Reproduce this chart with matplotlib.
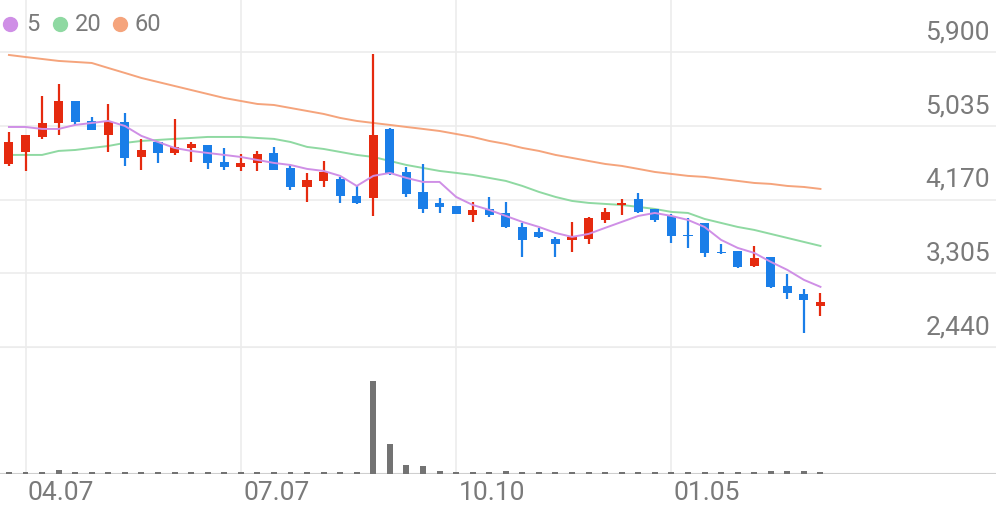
import numpy as np
import matplotlib.pyplot as plt

plt.rcParams['font.family'] = ['Roboto', 'DejaVu Sans']

# weekly candles
opens = [4588, 4729, 4905, 5069, 5327, 5093, 4928, 5081, 4670, 4846,
         4717, 4776, 4811, 4612, 4553, 4600, 4717, 4541, 4318, 4389,
         4412, 4213, 4189, 4999, 4494, 4260, 4131, 4096, 3990, 4060,
         4013, 3849, 3791, 3709, 3697, 3709, 3931, 4107, 4178, 4060,
         3978, 3755, 3896, 3556, 3568, 3392, 3497, 3157, 3063, 2923]
highs = [4964, 4928, 5386, 5527, 5327, 5140, 5292, 5187, 4882, 4846,
         5116, 4846, 4811, 4776, 4706, 4741, 4788, 4576, 4483, 4623,
         4436, 4330, 5879, 5011, 4553, 4588, 4189, 4096, 4142, 4201,
         4142, 3896, 3838, 3732, 3908, 3967, 4072, 4178, 4248, 4060,
         4002, 3955, 3896, 3650, 3568, 3626, 3497, 3298, 3122, 3075]
lows = [4565, 4506, 4882, 4928, 5046, 4987, 4729, 4565, 4518, 4600,
        4694, 4612, 4530, 4518, 4506, 4506, 4518, 4283, 4142, 4318,
        4131, 4119, 3978, 4459, 4201, 4013, 4013, 4002, 3908, 3967,
        3838, 3497, 3720, 3497, 3556, 3650, 3896, 3990, 4013, 3908,
        3662, 3603, 3497, 3533, 3368, 3380, 3134, 3005, 2606, 2805]
closes = [4846, 4928, 5069, 5327, 5081, 4987, 5081, 4659, 4752, 4717,
          4788, 4823, 4600, 4553, 4600, 4706, 4518, 4318, 4401, 4494,
          4213, 4131, 4928, 4483, 4236, 4060, 4084, 4002, 4049, 3990,
          3849, 3697, 3732, 3650, 3732, 3955, 4025, 4131, 4025, 3931,
          3744, 3744, 3544, 3544, 3380, 3486, 3146, 3075, 2993, 2970]
volume = [2, 2, 2, 4, 2, 2, 2, 2, 2, 2,
          2, 2, 2, 2, 2, 2, 2, 2, 2, 2,
          2, 2, 93, 30, 9, 8, 3, 2, 2, 2,
          3, 2, 2, 2, 2, 2, 2, 2, 2, 2,
          2, 2, 2, 2, 2, 2, 3, 3, 3, 2]
ma5 = [5022, 5022, 4999, 4999, 5046, 5069, 5093, 5034, 4917, 4846,
       4776, 4741, 4717, 4694, 4670, 4635, 4600, 4576, 4530, 4506,
       4448, 4330, 4448, 4483, 4424, 4377, 4377, 4201, 4107, 4049,
       3978, 3908, 3849, 3779, 3732, 3767, 3838, 3908, 3978, 4013,
       3978, 3931, 3849, 3697, 3603, 3544, 3439, 3345, 3228, 3146]
ma20 = [4694, 4694, 4694, 4741, 4752, 4776, 4799, 4835, 4858, 4870,
        4882, 4893, 4905, 4905, 4905, 4893, 4882, 4846, 4788, 4764,
        4729, 4694, 4670, 4623, 4576, 4541, 4506, 4483, 4459, 4424,
        4389, 4330, 4260, 4201, 4154, 4131, 4119, 4107, 4084, 4060,
        4025, 4013, 3943, 3896, 3849, 3814, 3767, 3720, 3673, 3626]
ma60 = [5867, 5843, 5820, 5797, 5785, 5773, 5714, 5656, 5597, 5550,
        5503, 5456, 5409, 5362, 5327, 5292, 5280, 5245, 5210, 5175,
        5128, 5093, 5069, 5046, 5022, 4999, 4975, 4940, 4905, 4858,
        4823, 4776, 4741, 4694, 4659, 4623, 4588, 4565, 4530, 4494,
        4471, 4448, 4436, 4412, 4389, 4365, 4354, 4330, 4318, 4295]
price_ticks = [2440, 3305, 4170, 5035, 5900]
date_pos = [1, 14, 27, 40]
date_labels = ["04.07", "07.07", "10.10", "01.05"]

RED = "#e52a0f"
BLUE = "#1a7ee8"
GRID = "#ececec"
TXT = "#7a7a7a"

fig = plt.figure(figsize=(9.96, 5.19), dpi=100)
ax = fig.add_axes([0, 0.3314, 1, 0.6686])
axv = fig.add_axes([0, 0.0867, 1, 0.2447])
xlim = (-0.54, 59.6)
x = np.arange(len(opens))

for a in (ax, axv):
    a.set_xlim(*xlim)
    for s in a.spines.values():
        s.set_visible(False)
    a.set_xticks([])
    a.set_yticks([])
    for p in date_pos:
        a.axvline(p, color=GRID, lw=1.2, zorder=0)

# price panel
ax.set_ylim(2440, 6512)
for t in price_ticks:
    ax.axhline(t, color=GRID, lw=1.2, zorder=0)
    ax.text(0.994, t + 90, f"{t:,}", transform=ax.get_yaxis_transform(),
            ha="right", va="bottom", fontsize=19, color=TXT)

for i in x:
    c = RED if closes[i] >= opens[i] else BLUE
    ax.vlines(i, lows[i], highs[i], color=c, lw=1.6, zorder=3)
    lo, hi = min(opens[i], closes[i]), max(opens[i], closes[i])
    ax.bar(i, max(hi - lo, 15), bottom=lo, width=0.55, color=c, zorder=4)

ax.plot(x, ma60, color="#f5a47c", lw=1.4, zorder=2)
ax.plot(x, ma20, color="#8fd9a2", lw=1.4, zorder=2)
ax.plot(x, ma5, color="#cf8fe6", lw=1.4, zorder=5)

# legend
for lab, col, cx, tx in [("5", "#cf8fe6", 0.06, 1.05),
                         ("20", "#8fd9a2", 3.1, 4.0),
                         ("60", "#f5a47c", 6.7, 7.6)]:
    ax.plot(cx, 6230, "o", color=col, ms=10, clip_on=False)
    ax.text(tx, 6230, lab, fontsize=17, color=TXT, va="center")

# volume panel
axv.set_ylim(0, 127)
axv.bar(x, volume, width=0.36, color="#737373", zorder=3)
axv.axhline(0, color="#cfcfcf", lw=1.5)
axv.axhline(127, color=GRID, lw=1.5)
for p, lab in zip(date_pos, date_labels):
    axv.text(p + 0.15, -7, lab, ha="left", va="top", fontsize=19, color=TXT)

fig.savefig("out.png", dpi=100)
